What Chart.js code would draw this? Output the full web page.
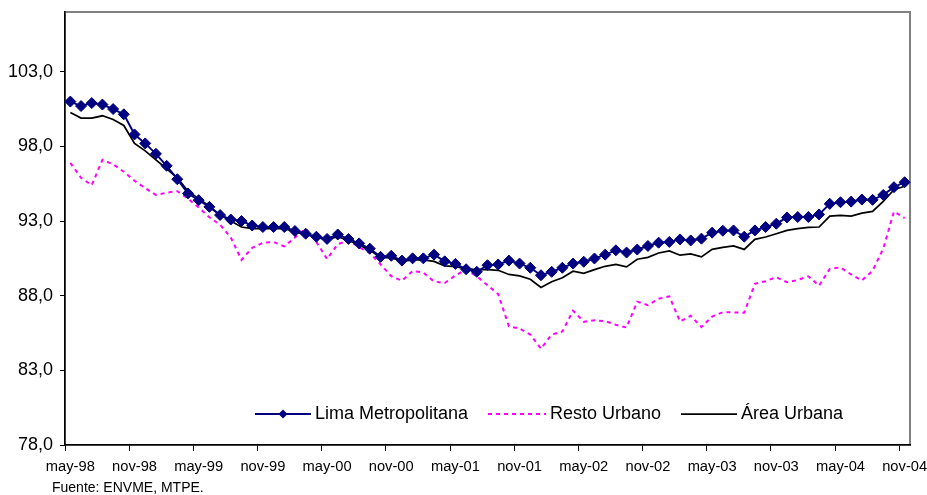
<!DOCTYPE html>
<html><head><meta charset="utf-8">
<script src="https://cdn.jsdelivr.net/npm/chart.js@4"></script>
<style>html,body{margin:0;padding:0;background:#fff}</style>
</head><body>
<canvas id="c" width="927" height="495"></canvas>
<script>
const categories = [
 'may-98','jun-98','jul-98','ago-98','sep-98','oct-98','nov-98','dic-98',
 'ene-99','feb-99','mar-99','abr-99','may-99','jun-99','jul-99','ago-99','sep-99','oct-99','nov-99','dic-99',
 'ene-00','feb-00','mar-00','abr-00','may-00','jun-00','jul-00','ago-00','sep-00','oct-00','nov-00','dic-00',
 'ene-01','feb-01','mar-01','abr-01','may-01','jun-01','jul-01','ago-01','sep-01','oct-01','nov-01','dic-01',
 'ene-02','feb-02','mar-02','abr-02','may-02','jun-02','jul-02','ago-02','sep-02','oct-02','nov-02','dic-02',
 'ene-03','feb-03','mar-03','abr-03','may-03','jun-03','jul-03','ago-03','sep-03','oct-03','nov-03','dic-03',
 'ene-04','feb-04','mar-04','abr-04','may-04','jun-04','jul-04','ago-04','sep-04','oct-04','nov-04'
];
const limaMetropolitana = [
 101.0,100.7,100.9,100.8,100.5,100.15,98.8,98.2,97.5,96.7,
 95.8,94.85,94.4,93.95,93.4,93.1,93.0,92.7,92.6,92.6,
 92.6,92.33,92.15,91.95,91.8,92.1,91.8,91.5,91.15,90.6,
 90.67,90.35,90.5,90.5,90.75,90.3,90.13,89.77,89.6,90.04,
 90.09,90.35,90.15,89.87,89.37,89.6,89.87,90.15,90.27,90.49,
 90.75,91.04,90.89,91.09,91.33,91.55,91.6,91.77,91.7,91.82,
 92.22,92.35,92.37,91.95,92.37,92.6,92.82,93.24,93.27,93.27,
 93.44,94.15,94.26,94.3,94.44,94.42,94.75,95.27,95.6
];
const restoUrbano = [
 96.9,95.9,95.4,97.1,96.8,96.3,95.7,95.2,94.75,94.9,
 95.0,94.5,93.9,93.25,92.75,91.9,90.4,91.2,91.55,91.6,
 91.3,91.9,92.5,91.6,90.45,91.45,91.7,91.25,90.85,90.1,
 89.3,89.0,89.65,89.55,88.95,88.85,89.35,89.75,89.3,88.7,
 88.1,85.95,85.8,85.4,84.45,85.4,85.6,87.0,86.25,86.35,
 86.3,86.05,85.87,87.6,87.37,87.8,87.95,86.27,86.65,85.9,
 86.6,86.89,86.88,86.86,88.8,88.97,89.24,88.9,89.05,89.3,
 88.67,89.8,89.9,89.42,89.02,89.67,91.15,93.64,93.2
];
const areaUrbana = [
 100.27,99.9,99.9,100.05,99.8,99.4,98.2,97.7,97.1,96.5,
 95.9,95.0,94.5,94.0,93.4,93.0,92.6,92.5,92.5,92.5,
 92.5,92.25,92.1,91.9,91.75,91.95,91.7,91.4,91.05,90.55,
 90.55,90.3,90.4,90.4,90.3,90.0,89.95,89.8,89.75,89.75,
 89.7,89.42,89.33,89.1,88.55,88.93,89.2,89.64,89.49,89.75,
 89.97,90.09,89.93,90.44,90.57,90.86,91.0,90.71,90.8,90.6,
 91.1,91.24,91.33,91.1,91.77,91.93,92.15,92.37,92.49,92.57,
 92.6,93.33,93.38,93.33,93.53,93.64,94.31,95.1,95.33
];
const yTickValues = [78, 83, 88, 93, 98, 103];
const seriesNames = ['Lima Metropolitana', 'Resto Urbano', 'Área Urbana'];
const sourceNote = 'Fuente: ENVME, MTPE.';

const FONT = '"Liberation Sans", Arial, sans-serif';

const frame = {
  id: 'frame',
  beforeDraw(chart) {
    const a = chart.chartArea, ctx = chart.ctx;
    ctx.save();
    ctx.strokeStyle = '#808080';
    ctx.lineWidth = 2;
    ctx.strokeRect(a.left, a.top, a.right - a.left, a.bottom - a.top);
    ctx.restore();
  }
};

const legendAndNote = {
  id: 'legendAndNote',
  afterDraw(chart) {
    const ctx = chart.ctx;
    const y = 414;
    const items = [
      {x0: 255, x1: 311, tx: 315, ds: 0},
      {x0: 488, x1: 546, tx: 550, ds: 1},
      {x0: 681, x1: 737, tx: 741, ds: 2}
    ];
    ctx.save();
    items.forEach(it => {
      const ds = chart.data.datasets[it.ds];
      ctx.strokeStyle = ds.borderColor;
      ctx.lineWidth = ds.borderWidth;
      ctx.setLineDash(ds.borderDash || []);
      ctx.beginPath(); ctx.moveTo(it.x0, y); ctx.lineTo(it.x1, y); ctx.stroke();
      ctx.setLineDash([]);
      if (ds.pointRadius > 0) {
        const cx = (it.x0 + it.x1) / 2, r = 4.5;
        ctx.fillStyle = ds.backgroundColor;
        ctx.beginPath();
        ctx.moveTo(cx, y - r); ctx.lineTo(cx + r, y); ctx.lineTo(cx, y + r); ctx.lineTo(cx - r, y);
        ctx.closePath(); ctx.fill();
      }
      ctx.fillStyle = '#000';
      ctx.font = '18px ' + FONT;
      ctx.textBaseline = 'middle';
      ctx.textAlign = 'left';
      ctx.fillText(seriesNames[it.ds], it.tx, y);
    });
    ctx.font = '14px ' + FONT;
    ctx.fillText(sourceNote, 52, 488);
    ctx.restore();
  }
};

new Chart(document.getElementById('c'), {
  type: 'line',
  data: {
    labels: categories,
    datasets: [
      {label: seriesNames[0], data: limaMetropolitana, borderColor: '#000080', backgroundColor: '#000080',
       borderWidth: 2, pointStyle: 'rectRot', pointRadius: 5.5, pointBorderWidth: 1, pointBorderColor: '#000080',
       pointBackgroundColor: '#000080', tension: 0},
      {label: seriesNames[1], data: restoUrbano, borderColor: '#FF00FF', backgroundColor: '#FF00FF',
       borderWidth: 2, borderDash: [4, 4], pointRadius: 0, tension: 0},
      {label: seriesNames[2], data: areaUrbana, borderColor: '#000000', backgroundColor: '#000000',
       borderWidth: 1.75, pointRadius: 0, tension: 0}
    ]
  },
  options: {
    responsive: false,
    animation: false,
    devicePixelRatio: 1,
    layout: {padding: {left: 0, right: 17, top: 12, bottom: 0}},
    plugins: {legend: {display: false}, tooltip: {enabled: false}},
    scales: {
      x: {
        type: 'category',
        offset: true,
        grid: {offset: true, drawOnChartArea: false, drawTicks: true, tickLength: 6, lineWidth: 1,
               color: c => (c.index !== undefined && c.index % 6 === 0) ? '#000' : 'rgba(0,0,0,0)'},
        border: {color: '#000', width: 1.5},
        ticks: {autoSkip: false, maxRotation: 0, minRotation: 0, padding: 7, color: '#000',
                font: {family: FONT, size: 14.7},
                callback: (v, i) => (i % 6 === 0 ? categories[i] : '')},
        afterFit: s => { s.height = 50; s.paddingLeft = 0; s.paddingRight = 0; }
      },
      y: {
        min: 78, max: 107,
        afterBuildTicks: s => { s.ticks = yTickValues.map(v => ({value: v})); },
        grid: {drawOnChartArea: false, tickLength: 5, color: '#000'},
        border: {color: '#000', width: 1.5},
        ticks: {padding: 7, color: '#000', font: {family: FONT, size: 18},
                callback: v => Number(v).toFixed(1).replace('.', ',')},
        afterFit: s => { s.width = 65; s.paddingTop = 0; s.paddingBottom = 0; }
      }
    }
  },
  plugins: [frame, legendAndNote]
});
</script>
</body></html>
